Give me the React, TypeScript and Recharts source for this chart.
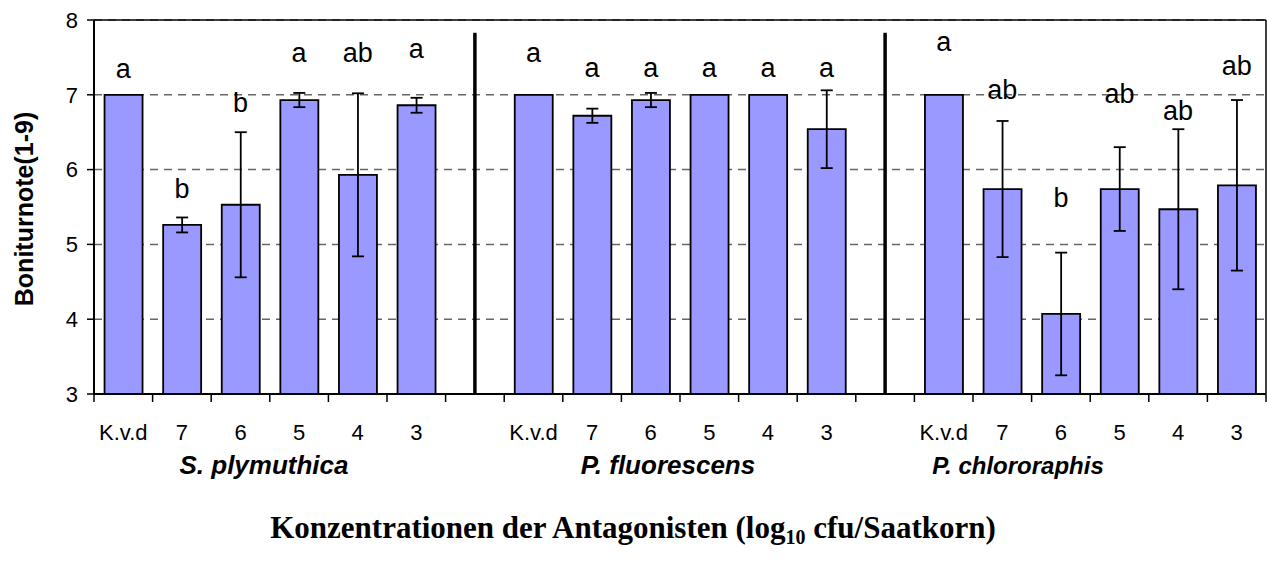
import React from 'react';
import {
  ComposedChart,
  Bar,
  ErrorBar,
  Scatter,
  XAxis,
  YAxis,
  CartesianGrid,
  ReferenceLine,
} from 'recharts';

const doses = ['K.v.d', '7', '6', '5', '4', '3'];
const strains = ['S. plymuthica', 'P. fluorescens', 'P. chlororaphis'];

const plymuthicaMean = [7.0, 5.26, 5.53, 6.93, 5.93, 6.86];
const plymuthicaErr = [0, 0.1, 0.97, 0.095, 1.09, 0.1];
const plymuthicaLetters = ['a', 'b', 'b', 'a', 'ab', 'a'];
const plymuthicaLetterAt = [7.22, 5.62, 6.77, 7.44, 7.44, 7.49];

const fluorescensMean = [7.0, 6.72, 6.93, 7.0, 7.0, 6.54];
const fluorescensErr = [0, 0.095, 0.095, 0, 0, 0.52];
const fluorescensLetters = ['a', 'a', 'a', 'a', 'a', 'a'];
const fluorescensLetterAt = [7.44, 7.24, 7.24, 7.24, 7.24, 7.24];

const chlororaphisMean = [7.0, 5.74, 4.07, 5.74, 5.47, 5.79];
const chlororaphisErr = [0, 0.91, 0.82, 0.56, 1.07, 1.14];
const chlororaphisLetters = ['a', 'ab', 'b', 'ab', 'ab', 'ab'];
const chlororaphisLetterAt = [7.59, 6.95, 5.5, 6.89, 6.66, 7.27];

const yTicks = [3, 4, 5, 6, 7, 8];

const groups = [
  { mean: plymuthicaMean, err: plymuthicaErr, letters: plymuthicaLetters, letterAt: plymuthicaLetterAt },
  { mean: fluorescensMean, err: fluorescensErr, letters: fluorescensLetters, letterAt: fluorescensLetterAt },
  { mean: chlororaphisMean, err: chlororaphisErr, letters: chlororaphisLetters, letterAt: chlororaphisLetterAt },
];

const rows: any[] = [];
const gapIds: string[] = [];
groups.forEach((g, gi) => {
  doses.forEach((d, i) => {
    rows.push({
      id: `${gi}-${i}`,
      dose: d,
      mean: g.mean[i],
      err: g.err[i],
      letter: g.letters[i],
      letterAt: g.letterAt[i],
    });
  });
  if (gi < groups.length - 1) {
    rows.push({ id: `gap-${gi}`, dose: '', err: 0 });
    gapIds.push(`gap-${gi}`);
  }
});

const W = 1267;
const H = 561;
const CHART_H = 500;
const LEFT = 94;
const SLOT = (W - LEFT - 1) / rows.length;

const DoseTick = (props: any) => {
  const { x, y, index } = props;
  const row = rows[index];
  return (
    <g>
      <line x1={x - SLOT / 2} x2={x - SLOT / 2} y1={y} y2={y + 8} stroke="#000" strokeWidth={1.5} />
      {index === rows.length - 1 && (
        <line x1={x + SLOT / 2} x2={x + SLOT / 2} y1={y} y2={y + 8} stroke="#000" strokeWidth={1.5} />
      )}
      <text x={x} y={y + 46} textAnchor="middle" fontSize={22} fill="#000" fontFamily="Liberation Sans, Arial">
        {row ? row.dose : ''}
      </text>
    </g>
  );
};

const LetterShape = (props: any) => {
  const { cx, cy, payload } = props;
  if (!payload || !payload.letter) return <g />;
  return (
    <text x={cx} y={cy} textAnchor="middle" fontSize={27} fill="#000" fontFamily="Liberation Sans, Arial">
      {payload.letter}
    </text>
  );
};

const groupLabelX = [264, 668, 1018];
const groupLabelSize = [26, 26, 24];

export default function App() {
  return (
    <div style={{ position: 'absolute', left: 0, top: 0, width: W, height: H, background: '#fff' }}>
      <ComposedChart
        width={W}
        height={CHART_H}
        data={rows}
        barCategoryGap="18%"
        margin={{ top: 20, right: 0, left: 0, bottom: 0 }}
      >
        <CartesianGrid vertical={false} stroke="#666" strokeDasharray="8 6" strokeWidth={1.5} />
        <XAxis
          dataKey="id"
          interval={0}
          height={CHART_H - 394}
          tickLine={false}
          tickSize={0}
          tickMargin={0}
          axisLine={{ stroke: '#000', strokeWidth: 2 }}
          tick={<DoseTick />}
        />
        <YAxis
          domain={[3, 8]}
          ticks={yTicks}
          width={LEFT}
          tickSize={7}
          tickMargin={9}
          axisLine={{ stroke: '#000', strokeWidth: 2 }}
          tickLine={{ stroke: '#000', strokeWidth: 1.5 }}
          tick={{ fontSize: 22, fill: '#000', fontFamily: 'Liberation Sans, Arial' }}
        />
        <YAxis
          yAxisId="r"
          orientation="right"
          domain={[3, 8]}
          width={1}
          tick={false}
          tickLine={false}
          axisLine={{ stroke: '#000', strokeWidth: 1.5 }}
        />
        <ReferenceLine y={8} stroke="#000" strokeWidth={1.5} />
        <Bar dataKey="mean" fill="#9999FF" stroke="#000" strokeWidth={1.8} isAnimationActive={false}>
          <ErrorBar dataKey="err" width={6} stroke="#000" strokeWidth={1.8} />
        </Bar>
        <Scatter dataKey="letterAt" shape={<LetterShape />} isAnimationActive={false} />
        {gapIds.map((g) => (
          <ReferenceLine
            key={g}
            segment={[{ x: g, y: 3 }, { x: g, y: 7.83 }]}
            stroke="#000"
            strokeWidth={3.5}
          />
        ))}
      </ComposedChart>
      <svg width={W} height={H} style={{ position: 'absolute', left: 0, top: 0, pointerEvents: 'none' }}>
        <text
          transform="translate(33,209) rotate(-90)"
          textAnchor="middle"
          fontSize={25}
          fontWeight="bold"
          fontFamily="Liberation Sans, Arial"
        >
          Boniturnote(1-9)
        </text>
        {strains.map((s, i) => (
          <text
            key={s}
            x={groupLabelX[i]}
            y={474}
            textAnchor="middle"
            fontSize={groupLabelSize[i]}
            fontWeight="bold"
            fontStyle="italic"
            fontFamily="Liberation Sans, Arial"
          >
            {s}
          </text>
        ))}
        <text x={633} y={538} textAnchor="middle" fontSize={31} fontWeight="bold" fontFamily="Liberation Serif, Times New Roman">
          Konzentrationen der Antagonisten (log
          <tspan fontSize={20} dy={6}>10</tspan>
          <tspan dy={-6}> cfu/Saatkorn)</tspan>
        </text>
      </svg>
    </div>
  );
}
